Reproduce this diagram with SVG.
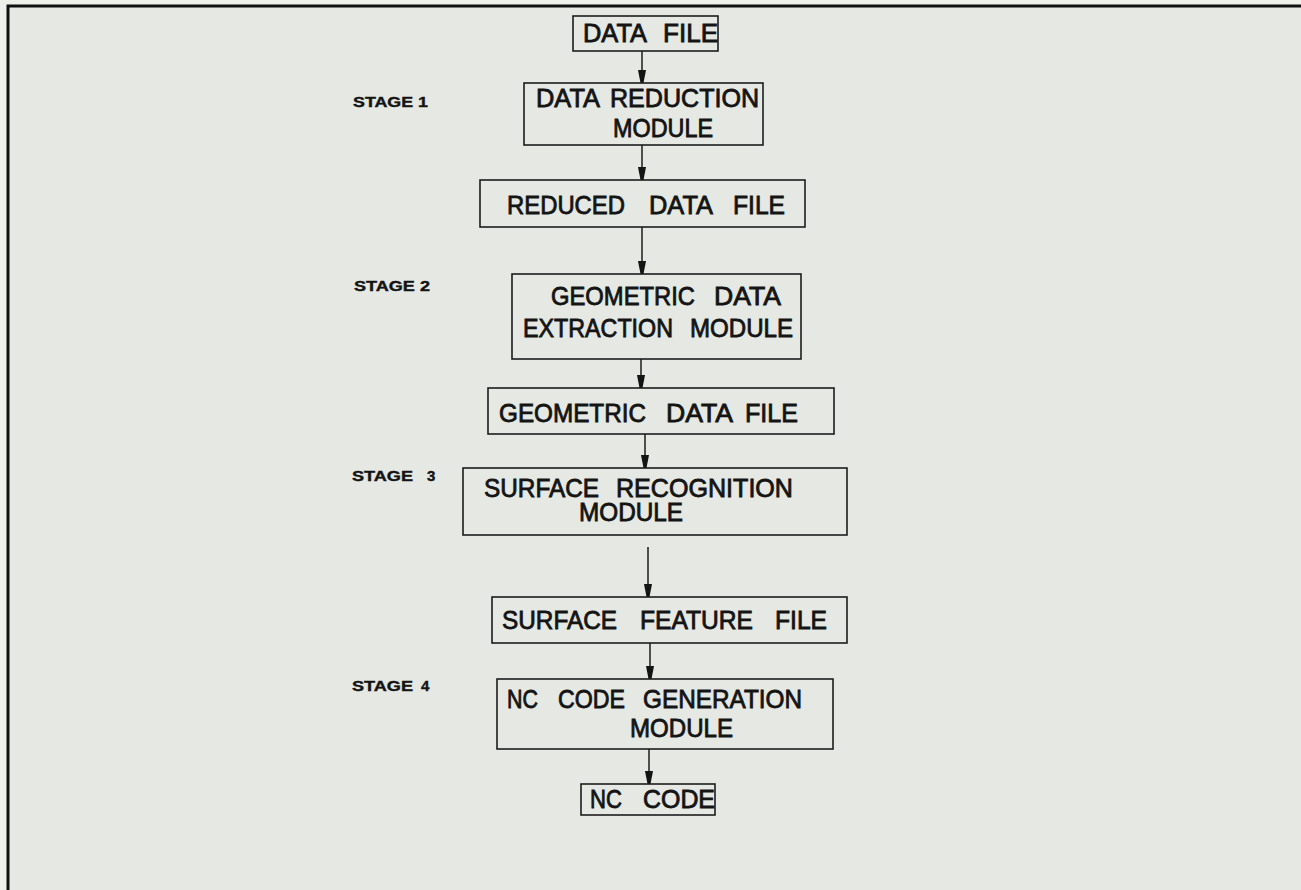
<svg xmlns="http://www.w3.org/2000/svg" width="1301" height="890" viewBox="0 0 1301 890">
  <style>
    .box { fill: none; stroke: #1c1c1c; stroke-width: 1.6; }
    .lbl { font-family: "Liberation Sans", Arial, sans-serif; font-size: 25px; fill: #141414; stroke: #141414; stroke-width: 0.8; }
    .stage { font-family: "Liberation Sans", Arial, sans-serif; font-size: 15px; font-weight: bold; fill: #141414; stroke: #141414; stroke-width: 0.4; }
    .wire { stroke: #1c1c1c; stroke-width: 1.5; fill: none; marker-end: url(#head); }
  </style>
  <defs>
    <!-- blunt filled head, drawn along +x so orient="auto" turns it down the wire -->
    <marker id="head" markerUnits="userSpaceOnUse" markerWidth="14" markerHeight="10" refX="13" refY="5" orient="auto" viewBox="0 0 14 10">
      <path d="M0,1 L0,9 L13,6.5 L13,3.5 Z" fill="#141414"/>
    </marker>
  </defs>

  <!-- sheet -->
  <rect x="0" y="0" width="1301" height="890" fill="#eef0ec"/>
  <rect x="8" y="6" width="1293" height="884" fill="#e5e8e3"/>
  <path d="M8,890 L8,6 L1301,6" fill="none" stroke="#111" stroke-width="3"/>

  <!-- stage labels -->
  <g id="stage-labels">
    <text class="stage" x="353" y="107" textLength="75" lengthAdjust="spacingAndGlyphs">STAGE 1</text>
    <text class="stage" x="354" y="291" textLength="76" lengthAdjust="spacingAndGlyphs">STAGE 2</text>
    <text class="stage" y="481"><tspan x="352" textLength="61" lengthAdjust="spacingAndGlyphs">STAGE</tspan><tspan x="427">3</tspan></text>
    <text class="stage" y="691"><tspan x="352" textLength="61" lengthAdjust="spacingAndGlyphs">STAGE</tspan><tspan x="421">4</tspan></text>
  </g>

  <!-- connectors -->
  <g id="connectors">
    <line class="wire" x1="642" y1="51" x2="642" y2="83"/>
    <line class="wire" x1="642" y1="145" x2="642" y2="180"/>
    <line class="wire" x1="642" y1="227" x2="642" y2="274"/>
    <line class="wire" x1="641" y1="359" x2="641" y2="388"/>
    <line class="wire" x1="645" y1="434" x2="645" y2="468"/>
    <line class="wire" x1="648" y1="547" x2="648" y2="597"/>
    <line class="wire" x1="650" y1="643" x2="650" y2="679"/>
    <line class="wire" x1="649" y1="749" x2="649" y2="784"/>
  </g>

  <g id="data-file">
    <rect class="box" x="573" y="16" width="145" height="35"/>
    <text class="lbl" y="42"><tspan x="583" textLength="64" lengthAdjust="spacingAndGlyphs">DATA</tspan><tspan x="663" textLength="55" lengthAdjust="spacingAndGlyphs">FILE</tspan></text>
  </g>

  <g id="data-reduction-module">
    <rect class="box" x="524" y="83" width="239" height="62"/>
    <text class="lbl" y="107"><tspan x="536" textLength="64" lengthAdjust="spacingAndGlyphs">DATA</tspan><tspan x="610" textLength="149" lengthAdjust="spacingAndGlyphs">REDUCTION</tspan></text>
    <text class="lbl" x="613" y="137" textLength="100" lengthAdjust="spacingAndGlyphs">MODULE</text>
  </g>

  <g id="reduced-data-file">
    <rect class="box" x="480" y="180" width="325" height="47"/>
    <text class="lbl" y="214"><tspan x="507" textLength="118" lengthAdjust="spacingAndGlyphs">REDUCED</tspan><tspan x="649" textLength="64" lengthAdjust="spacingAndGlyphs">DATA</tspan><tspan x="733" textLength="52" lengthAdjust="spacingAndGlyphs">FILE</tspan></text>
  </g>

  <g id="geometric-extraction-module">
    <rect class="box" x="512" y="274" width="289" height="85"/>
    <text class="lbl" y="305"><tspan x="551" textLength="144" lengthAdjust="spacingAndGlyphs">GEOMETRIC</tspan><tspan x="714" textLength="67" lengthAdjust="spacingAndGlyphs">DATA</tspan></text>
    <text class="lbl" y="337"><tspan x="523" textLength="150" lengthAdjust="spacingAndGlyphs">EXTRACTION</tspan><tspan x="690" textLength="103" lengthAdjust="spacingAndGlyphs">MODULE</tspan></text>
  </g>

  <g id="geometric-data-file">
    <rect class="box" x="488" y="388" width="346" height="46"/>
    <text class="lbl" y="422"><tspan x="499" textLength="147" lengthAdjust="spacingAndGlyphs">GEOMETRIC</tspan><tspan x="666" textLength="67" lengthAdjust="spacingAndGlyphs">DATA</tspan><tspan x="745" textLength="53" lengthAdjust="spacingAndGlyphs">FILE</tspan></text>
  </g>

  <g id="surface-recognition-module">
    <rect class="box" x="463" y="468" width="384" height="67"/>
    <text class="lbl" y="497" font-size="24"><tspan x="484" textLength="115" lengthAdjust="spacingAndGlyphs">SURFACE</tspan><tspan x="616" textLength="177" lengthAdjust="spacingAndGlyphs">RECOGNITION</tspan></text>
    <text class="lbl" x="579" y="521" font-size="24" textLength="104" lengthAdjust="spacingAndGlyphs">MODULE</text>
  </g>

  <g id="surface-feature-file">
    <rect class="box" x="492" y="597" width="355" height="46"/>
    <text class="lbl" y="629"><tspan x="502" textLength="115" lengthAdjust="spacingAndGlyphs">SURFACE</tspan><tspan x="640" textLength="113" lengthAdjust="spacingAndGlyphs">FEATURE</tspan><tspan x="775" textLength="52" lengthAdjust="spacingAndGlyphs">FILE</tspan></text>
  </g>

  <g id="nc-code-generation-module">
    <rect class="box" x="497" y="679" width="336" height="70"/>
    <text class="lbl" y="708"><tspan x="507" textLength="31" lengthAdjust="spacingAndGlyphs">NC</tspan><tspan x="558" textLength="67" lengthAdjust="spacingAndGlyphs">CODE</tspan><tspan x="643" textLength="159" lengthAdjust="spacingAndGlyphs">GENERATION</tspan></text>
    <text class="lbl" x="630" y="737" textLength="103" lengthAdjust="spacingAndGlyphs">MODULE</text>
  </g>

  <g id="nc-code">
    <rect class="box" x="581" y="784" width="134" height="31"/>
    <text class="lbl" y="808"><tspan x="590" textLength="32" lengthAdjust="spacingAndGlyphs">NC</tspan><tspan x="643" textLength="72" lengthAdjust="spacingAndGlyphs">CODE</tspan></text>
  </g>
</svg>
